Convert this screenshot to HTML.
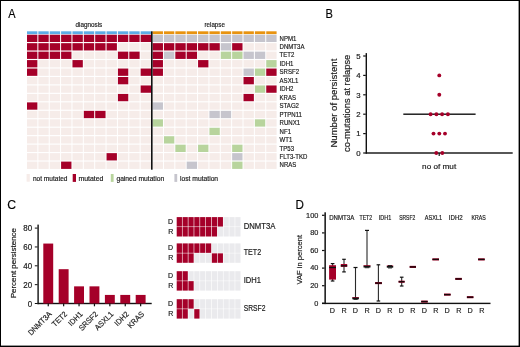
<!DOCTYPE html>
<html><head><meta charset="utf-8"><style>
html,body{margin:0;padding:0;background:#fff;}
body{width:520px;height:347px;overflow:hidden;}
svg{display:block;will-change:transform;}
text{font-family:"Liberation Sans", sans-serif;stroke:#1a1a1a;stroke-width:0.18px;}
</style></head><body>
<svg width="520" height="347" viewBox="0 0 520 347">
<rect x="0" y="0" width="520" height="347" fill="#fff"/>
<rect x="27.00" y="34.70" width="10.36" height="7.31" fill="#a50029"/>
<rect x="152.60" y="34.70" width="10.36" height="7.31" fill="#c6c5cd"/>
<rect x="38.36" y="34.70" width="10.36" height="7.31" fill="#a50029"/>
<rect x="163.96" y="34.70" width="10.36" height="7.31" fill="#c6c5cd"/>
<rect x="49.73" y="34.70" width="10.36" height="7.31" fill="#a50029"/>
<rect x="175.33" y="34.70" width="10.36" height="7.31" fill="#c6c5cd"/>
<rect x="61.09" y="34.70" width="10.36" height="7.31" fill="#a50029"/>
<rect x="186.69" y="34.70" width="10.36" height="7.31" fill="#c6c5cd"/>
<rect x="72.46" y="34.70" width="10.36" height="7.31" fill="#a50029"/>
<rect x="198.06" y="34.70" width="10.36" height="7.31" fill="#c6c5cd"/>
<rect x="83.82" y="34.70" width="10.36" height="7.31" fill="#a50029"/>
<rect x="209.42" y="34.70" width="10.36" height="7.31" fill="#c6c5cd"/>
<rect x="95.18" y="34.70" width="10.36" height="7.31" fill="#a50029"/>
<rect x="220.78" y="34.70" width="10.36" height="7.31" fill="#c6c5cd"/>
<rect x="106.55" y="34.70" width="10.36" height="7.31" fill="#a50029"/>
<rect x="232.15" y="34.70" width="10.36" height="7.31" fill="#c6c5cd"/>
<rect x="117.91" y="34.70" width="10.36" height="7.31" fill="#a50029"/>
<rect x="243.51" y="34.70" width="10.36" height="7.31" fill="#c6c5cd"/>
<rect x="129.28" y="34.70" width="10.36" height="7.31" fill="#a50029"/>
<rect x="254.88" y="34.70" width="10.36" height="7.31" fill="#c6c5cd"/>
<rect x="140.64" y="34.70" width="10.36" height="7.31" fill="#a50029"/>
<rect x="266.24" y="34.70" width="10.36" height="7.31" fill="#c6c5cd"/>
<rect x="27.00" y="43.16" width="10.36" height="7.31" fill="#a50029"/>
<rect x="152.60" y="43.16" width="10.36" height="7.31" fill="#a50029"/>
<rect x="38.36" y="43.16" width="10.36" height="7.31" fill="#a50029"/>
<rect x="163.96" y="43.16" width="10.36" height="7.31" fill="#a50029"/>
<rect x="49.73" y="43.16" width="10.36" height="7.31" fill="#a50029"/>
<rect x="175.33" y="43.16" width="10.36" height="7.31" fill="#a50029"/>
<rect x="61.09" y="43.16" width="10.36" height="7.31" fill="#a50029"/>
<rect x="186.69" y="43.16" width="10.36" height="7.31" fill="#a50029"/>
<rect x="72.46" y="43.16" width="10.36" height="7.31" fill="#a50029"/>
<rect x="198.06" y="43.16" width="10.36" height="7.31" fill="#a50029"/>
<rect x="83.82" y="43.16" width="10.36" height="7.31" fill="#a50029"/>
<rect x="209.42" y="43.16" width="10.36" height="7.31" fill="#a50029"/>
<rect x="95.18" y="43.16" width="10.36" height="7.31" fill="#a50029"/>
<rect x="220.78" y="43.16" width="10.36" height="7.31" fill="#c6c5cd"/>
<rect x="106.55" y="43.16" width="10.36" height="7.31" fill="#a50029"/>
<rect x="232.15" y="43.16" width="10.36" height="7.31" fill="#a50029"/>
<rect x="117.91" y="43.16" width="10.36" height="7.31" fill="#f6ece9"/>
<rect x="243.51" y="43.16" width="10.36" height="7.31" fill="#f6ece9"/>
<rect x="129.28" y="43.16" width="10.36" height="7.31" fill="#f6ece9"/>
<rect x="254.88" y="43.16" width="10.36" height="7.31" fill="#f6ece9"/>
<rect x="140.64" y="43.16" width="10.36" height="7.31" fill="#f6ece9"/>
<rect x="266.24" y="43.16" width="10.36" height="7.31" fill="#f6ece9"/>
<rect x="27.00" y="51.62" width="10.36" height="7.31" fill="#a50029"/>
<rect x="152.60" y="51.62" width="10.36" height="7.31" fill="#a50029"/>
<rect x="38.36" y="51.62" width="10.36" height="7.31" fill="#a50029"/>
<rect x="163.96" y="51.62" width="10.36" height="7.31" fill="#c6c5cd"/>
<rect x="49.73" y="51.62" width="10.36" height="7.31" fill="#a50029"/>
<rect x="175.33" y="51.62" width="10.36" height="7.31" fill="#a50029"/>
<rect x="61.09" y="51.62" width="10.36" height="7.31" fill="#a50029"/>
<rect x="186.69" y="51.62" width="10.36" height="7.31" fill="#a50029"/>
<rect x="72.46" y="51.62" width="10.36" height="7.31" fill="#f6ece9"/>
<rect x="198.06" y="51.62" width="10.36" height="7.31" fill="#f6ece9"/>
<rect x="83.82" y="51.62" width="10.36" height="7.31" fill="#f6ece9"/>
<rect x="209.42" y="51.62" width="10.36" height="7.31" fill="#f6ece9"/>
<rect x="95.18" y="51.62" width="10.36" height="7.31" fill="#f6ece9"/>
<rect x="220.78" y="51.62" width="10.36" height="7.31" fill="#b8d49d"/>
<rect x="106.55" y="51.62" width="10.36" height="7.31" fill="#f6ece9"/>
<rect x="232.15" y="51.62" width="10.36" height="7.31" fill="#b8d49d"/>
<rect x="117.91" y="51.62" width="10.36" height="7.31" fill="#a50029"/>
<rect x="243.51" y="51.62" width="10.36" height="7.31" fill="#c6c5cd"/>
<rect x="129.28" y="51.62" width="10.36" height="7.31" fill="#a50029"/>
<rect x="254.88" y="51.62" width="10.36" height="7.31" fill="#c6c5cd"/>
<rect x="140.64" y="51.62" width="10.36" height="7.31" fill="#f6ece9"/>
<rect x="266.24" y="51.62" width="10.36" height="7.31" fill="#f6ece9"/>
<rect x="27.00" y="60.08" width="10.36" height="7.31" fill="#a50029"/>
<rect x="152.60" y="60.08" width="10.36" height="7.31" fill="#a50029"/>
<rect x="38.36" y="60.08" width="10.36" height="7.31" fill="#f6ece9"/>
<rect x="163.96" y="60.08" width="10.36" height="7.31" fill="#f6ece9"/>
<rect x="49.73" y="60.08" width="10.36" height="7.31" fill="#f6ece9"/>
<rect x="175.33" y="60.08" width="10.36" height="7.31" fill="#f6ece9"/>
<rect x="61.09" y="60.08" width="10.36" height="7.31" fill="#f6ece9"/>
<rect x="186.69" y="60.08" width="10.36" height="7.31" fill="#f6ece9"/>
<rect x="72.46" y="60.08" width="10.36" height="7.31" fill="#a50029"/>
<rect x="198.06" y="60.08" width="10.36" height="7.31" fill="#a50029"/>
<rect x="83.82" y="60.08" width="10.36" height="7.31" fill="#f6ece9"/>
<rect x="209.42" y="60.08" width="10.36" height="7.31" fill="#f6ece9"/>
<rect x="95.18" y="60.08" width="10.36" height="7.31" fill="#f6ece9"/>
<rect x="220.78" y="60.08" width="10.36" height="7.31" fill="#f6ece9"/>
<rect x="106.55" y="60.08" width="10.36" height="7.31" fill="#f6ece9"/>
<rect x="232.15" y="60.08" width="10.36" height="7.31" fill="#f6ece9"/>
<rect x="117.91" y="60.08" width="10.36" height="7.31" fill="#f6ece9"/>
<rect x="243.51" y="60.08" width="10.36" height="7.31" fill="#f6ece9"/>
<rect x="129.28" y="60.08" width="10.36" height="7.31" fill="#f6ece9"/>
<rect x="254.88" y="60.08" width="10.36" height="7.31" fill="#f6ece9"/>
<rect x="140.64" y="60.08" width="10.36" height="7.31" fill="#f6ece9"/>
<rect x="266.24" y="60.08" width="10.36" height="7.31" fill="#b8d49d"/>
<rect x="27.00" y="68.54" width="10.36" height="7.31" fill="#a50029"/>
<rect x="152.60" y="68.54" width="10.36" height="7.31" fill="#a50029"/>
<rect x="38.36" y="68.54" width="10.36" height="7.31" fill="#f6ece9"/>
<rect x="163.96" y="68.54" width="10.36" height="7.31" fill="#f6ece9"/>
<rect x="49.73" y="68.54" width="10.36" height="7.31" fill="#f6ece9"/>
<rect x="175.33" y="68.54" width="10.36" height="7.31" fill="#f6ece9"/>
<rect x="61.09" y="68.54" width="10.36" height="7.31" fill="#f6ece9"/>
<rect x="186.69" y="68.54" width="10.36" height="7.31" fill="#f6ece9"/>
<rect x="72.46" y="68.54" width="10.36" height="7.31" fill="#f6ece9"/>
<rect x="198.06" y="68.54" width="10.36" height="7.31" fill="#f6ece9"/>
<rect x="83.82" y="68.54" width="10.36" height="7.31" fill="#f6ece9"/>
<rect x="209.42" y="68.54" width="10.36" height="7.31" fill="#f6ece9"/>
<rect x="95.18" y="68.54" width="10.36" height="7.31" fill="#f6ece9"/>
<rect x="220.78" y="68.54" width="10.36" height="7.31" fill="#f6ece9"/>
<rect x="106.55" y="68.54" width="10.36" height="7.31" fill="#f6ece9"/>
<rect x="232.15" y="68.54" width="10.36" height="7.31" fill="#f6ece9"/>
<rect x="117.91" y="68.54" width="10.36" height="7.31" fill="#a50029"/>
<rect x="243.51" y="68.54" width="10.36" height="7.31" fill="#c6c5cd"/>
<rect x="129.28" y="68.54" width="10.36" height="7.31" fill="#f6ece9"/>
<rect x="254.88" y="68.54" width="10.36" height="7.31" fill="#b8d49d"/>
<rect x="140.64" y="68.54" width="10.36" height="7.31" fill="#a50029"/>
<rect x="266.24" y="68.54" width="10.36" height="7.31" fill="#a50029"/>
<rect x="27.00" y="77.00" width="10.36" height="7.31" fill="#f6ece9"/>
<rect x="152.60" y="77.00" width="10.36" height="7.31" fill="#f6ece9"/>
<rect x="38.36" y="77.00" width="10.36" height="7.31" fill="#f6ece9"/>
<rect x="163.96" y="77.00" width="10.36" height="7.31" fill="#f6ece9"/>
<rect x="49.73" y="77.00" width="10.36" height="7.31" fill="#f6ece9"/>
<rect x="175.33" y="77.00" width="10.36" height="7.31" fill="#f6ece9"/>
<rect x="61.09" y="77.00" width="10.36" height="7.31" fill="#f6ece9"/>
<rect x="186.69" y="77.00" width="10.36" height="7.31" fill="#f6ece9"/>
<rect x="72.46" y="77.00" width="10.36" height="7.31" fill="#f6ece9"/>
<rect x="198.06" y="77.00" width="10.36" height="7.31" fill="#f6ece9"/>
<rect x="83.82" y="77.00" width="10.36" height="7.31" fill="#f6ece9"/>
<rect x="209.42" y="77.00" width="10.36" height="7.31" fill="#f6ece9"/>
<rect x="95.18" y="77.00" width="10.36" height="7.31" fill="#f6ece9"/>
<rect x="220.78" y="77.00" width="10.36" height="7.31" fill="#f6ece9"/>
<rect x="106.55" y="77.00" width="10.36" height="7.31" fill="#f6ece9"/>
<rect x="232.15" y="77.00" width="10.36" height="7.31" fill="#f6ece9"/>
<rect x="117.91" y="77.00" width="10.36" height="7.31" fill="#a50029"/>
<rect x="243.51" y="77.00" width="10.36" height="7.31" fill="#a50029"/>
<rect x="129.28" y="77.00" width="10.36" height="7.31" fill="#f6ece9"/>
<rect x="254.88" y="77.00" width="10.36" height="7.31" fill="#f6ece9"/>
<rect x="140.64" y="77.00" width="10.36" height="7.31" fill="#f6ece9"/>
<rect x="266.24" y="77.00" width="10.36" height="7.31" fill="#f6ece9"/>
<rect x="27.00" y="85.46" width="10.36" height="7.31" fill="#f6ece9"/>
<rect x="152.60" y="85.46" width="10.36" height="7.31" fill="#f6ece9"/>
<rect x="38.36" y="85.46" width="10.36" height="7.31" fill="#f6ece9"/>
<rect x="163.96" y="85.46" width="10.36" height="7.31" fill="#f6ece9"/>
<rect x="49.73" y="85.46" width="10.36" height="7.31" fill="#f6ece9"/>
<rect x="175.33" y="85.46" width="10.36" height="7.31" fill="#f6ece9"/>
<rect x="61.09" y="85.46" width="10.36" height="7.31" fill="#f6ece9"/>
<rect x="186.69" y="85.46" width="10.36" height="7.31" fill="#f6ece9"/>
<rect x="72.46" y="85.46" width="10.36" height="7.31" fill="#f6ece9"/>
<rect x="198.06" y="85.46" width="10.36" height="7.31" fill="#f6ece9"/>
<rect x="83.82" y="85.46" width="10.36" height="7.31" fill="#f6ece9"/>
<rect x="209.42" y="85.46" width="10.36" height="7.31" fill="#f6ece9"/>
<rect x="95.18" y="85.46" width="10.36" height="7.31" fill="#f6ece9"/>
<rect x="220.78" y="85.46" width="10.36" height="7.31" fill="#f6ece9"/>
<rect x="106.55" y="85.46" width="10.36" height="7.31" fill="#f6ece9"/>
<rect x="232.15" y="85.46" width="10.36" height="7.31" fill="#f6ece9"/>
<rect x="117.91" y="85.46" width="10.36" height="7.31" fill="#f6ece9"/>
<rect x="243.51" y="85.46" width="10.36" height="7.31" fill="#f6ece9"/>
<rect x="129.28" y="85.46" width="10.36" height="7.31" fill="#f6ece9"/>
<rect x="254.88" y="85.46" width="10.36" height="7.31" fill="#b8d49d"/>
<rect x="140.64" y="85.46" width="10.36" height="7.31" fill="#a50029"/>
<rect x="266.24" y="85.46" width="10.36" height="7.31" fill="#a50029"/>
<rect x="27.00" y="93.92" width="10.36" height="7.31" fill="#f6ece9"/>
<rect x="152.60" y="93.92" width="10.36" height="7.31" fill="#f6ece9"/>
<rect x="38.36" y="93.92" width="10.36" height="7.31" fill="#f6ece9"/>
<rect x="163.96" y="93.92" width="10.36" height="7.31" fill="#f6ece9"/>
<rect x="49.73" y="93.92" width="10.36" height="7.31" fill="#f6ece9"/>
<rect x="175.33" y="93.92" width="10.36" height="7.31" fill="#f6ece9"/>
<rect x="61.09" y="93.92" width="10.36" height="7.31" fill="#f6ece9"/>
<rect x="186.69" y="93.92" width="10.36" height="7.31" fill="#f6ece9"/>
<rect x="72.46" y="93.92" width="10.36" height="7.31" fill="#f6ece9"/>
<rect x="198.06" y="93.92" width="10.36" height="7.31" fill="#f6ece9"/>
<rect x="83.82" y="93.92" width="10.36" height="7.31" fill="#f6ece9"/>
<rect x="209.42" y="93.92" width="10.36" height="7.31" fill="#f6ece9"/>
<rect x="95.18" y="93.92" width="10.36" height="7.31" fill="#f6ece9"/>
<rect x="220.78" y="93.92" width="10.36" height="7.31" fill="#f6ece9"/>
<rect x="106.55" y="93.92" width="10.36" height="7.31" fill="#f6ece9"/>
<rect x="232.15" y="93.92" width="10.36" height="7.31" fill="#f6ece9"/>
<rect x="117.91" y="93.92" width="10.36" height="7.31" fill="#a50029"/>
<rect x="243.51" y="93.92" width="10.36" height="7.31" fill="#a50029"/>
<rect x="129.28" y="93.92" width="10.36" height="7.31" fill="#f6ece9"/>
<rect x="254.88" y="93.92" width="10.36" height="7.31" fill="#f6ece9"/>
<rect x="140.64" y="93.92" width="10.36" height="7.31" fill="#f6ece9"/>
<rect x="266.24" y="93.92" width="10.36" height="7.31" fill="#f6ece9"/>
<rect x="27.00" y="102.38" width="10.36" height="7.31" fill="#a50029"/>
<rect x="152.60" y="102.38" width="10.36" height="7.31" fill="#c6c5cd"/>
<rect x="38.36" y="102.38" width="10.36" height="7.31" fill="#f6ece9"/>
<rect x="163.96" y="102.38" width="10.36" height="7.31" fill="#f6ece9"/>
<rect x="49.73" y="102.38" width="10.36" height="7.31" fill="#f6ece9"/>
<rect x="175.33" y="102.38" width="10.36" height="7.31" fill="#f6ece9"/>
<rect x="61.09" y="102.38" width="10.36" height="7.31" fill="#f6ece9"/>
<rect x="186.69" y="102.38" width="10.36" height="7.31" fill="#f6ece9"/>
<rect x="72.46" y="102.38" width="10.36" height="7.31" fill="#f6ece9"/>
<rect x="198.06" y="102.38" width="10.36" height="7.31" fill="#f6ece9"/>
<rect x="83.82" y="102.38" width="10.36" height="7.31" fill="#f6ece9"/>
<rect x="209.42" y="102.38" width="10.36" height="7.31" fill="#f6ece9"/>
<rect x="95.18" y="102.38" width="10.36" height="7.31" fill="#f6ece9"/>
<rect x="220.78" y="102.38" width="10.36" height="7.31" fill="#f6ece9"/>
<rect x="106.55" y="102.38" width="10.36" height="7.31" fill="#f6ece9"/>
<rect x="232.15" y="102.38" width="10.36" height="7.31" fill="#f6ece9"/>
<rect x="117.91" y="102.38" width="10.36" height="7.31" fill="#f6ece9"/>
<rect x="243.51" y="102.38" width="10.36" height="7.31" fill="#f6ece9"/>
<rect x="129.28" y="102.38" width="10.36" height="7.31" fill="#f6ece9"/>
<rect x="254.88" y="102.38" width="10.36" height="7.31" fill="#f6ece9"/>
<rect x="140.64" y="102.38" width="10.36" height="7.31" fill="#f6ece9"/>
<rect x="266.24" y="102.38" width="10.36" height="7.31" fill="#f6ece9"/>
<rect x="27.00" y="110.84" width="10.36" height="7.31" fill="#f6ece9"/>
<rect x="152.60" y="110.84" width="10.36" height="7.31" fill="#f6ece9"/>
<rect x="38.36" y="110.84" width="10.36" height="7.31" fill="#f6ece9"/>
<rect x="163.96" y="110.84" width="10.36" height="7.31" fill="#f6ece9"/>
<rect x="49.73" y="110.84" width="10.36" height="7.31" fill="#f6ece9"/>
<rect x="175.33" y="110.84" width="10.36" height="7.31" fill="#f6ece9"/>
<rect x="61.09" y="110.84" width="10.36" height="7.31" fill="#f6ece9"/>
<rect x="186.69" y="110.84" width="10.36" height="7.31" fill="#f6ece9"/>
<rect x="72.46" y="110.84" width="10.36" height="7.31" fill="#f6ece9"/>
<rect x="198.06" y="110.84" width="10.36" height="7.31" fill="#f6ece9"/>
<rect x="83.82" y="110.84" width="10.36" height="7.31" fill="#a50029"/>
<rect x="209.42" y="110.84" width="10.36" height="7.31" fill="#c6c5cd"/>
<rect x="95.18" y="110.84" width="10.36" height="7.31" fill="#a50029"/>
<rect x="220.78" y="110.84" width="10.36" height="7.31" fill="#c6c5cd"/>
<rect x="106.55" y="110.84" width="10.36" height="7.31" fill="#f6ece9"/>
<rect x="232.15" y="110.84" width="10.36" height="7.31" fill="#f6ece9"/>
<rect x="117.91" y="110.84" width="10.36" height="7.31" fill="#f6ece9"/>
<rect x="243.51" y="110.84" width="10.36" height="7.31" fill="#f6ece9"/>
<rect x="129.28" y="110.84" width="10.36" height="7.31" fill="#f6ece9"/>
<rect x="254.88" y="110.84" width="10.36" height="7.31" fill="#f6ece9"/>
<rect x="140.64" y="110.84" width="10.36" height="7.31" fill="#f6ece9"/>
<rect x="266.24" y="110.84" width="10.36" height="7.31" fill="#f6ece9"/>
<rect x="27.00" y="119.30" width="10.36" height="7.31" fill="#f6ece9"/>
<rect x="152.60" y="119.30" width="10.36" height="7.31" fill="#b8d49d"/>
<rect x="38.36" y="119.30" width="10.36" height="7.31" fill="#f6ece9"/>
<rect x="163.96" y="119.30" width="10.36" height="7.31" fill="#f6ece9"/>
<rect x="49.73" y="119.30" width="10.36" height="7.31" fill="#f6ece9"/>
<rect x="175.33" y="119.30" width="10.36" height="7.31" fill="#f6ece9"/>
<rect x="61.09" y="119.30" width="10.36" height="7.31" fill="#f6ece9"/>
<rect x="186.69" y="119.30" width="10.36" height="7.31" fill="#f6ece9"/>
<rect x="72.46" y="119.30" width="10.36" height="7.31" fill="#f6ece9"/>
<rect x="198.06" y="119.30" width="10.36" height="7.31" fill="#f6ece9"/>
<rect x="83.82" y="119.30" width="10.36" height="7.31" fill="#f6ece9"/>
<rect x="209.42" y="119.30" width="10.36" height="7.31" fill="#f6ece9"/>
<rect x="95.18" y="119.30" width="10.36" height="7.31" fill="#f6ece9"/>
<rect x="220.78" y="119.30" width="10.36" height="7.31" fill="#f6ece9"/>
<rect x="106.55" y="119.30" width="10.36" height="7.31" fill="#f6ece9"/>
<rect x="232.15" y="119.30" width="10.36" height="7.31" fill="#f6ece9"/>
<rect x="117.91" y="119.30" width="10.36" height="7.31" fill="#f6ece9"/>
<rect x="243.51" y="119.30" width="10.36" height="7.31" fill="#f6ece9"/>
<rect x="129.28" y="119.30" width="10.36" height="7.31" fill="#f6ece9"/>
<rect x="254.88" y="119.30" width="10.36" height="7.31" fill="#b8d49d"/>
<rect x="140.64" y="119.30" width="10.36" height="7.31" fill="#f6ece9"/>
<rect x="266.24" y="119.30" width="10.36" height="7.31" fill="#f6ece9"/>
<rect x="27.00" y="127.76" width="10.36" height="7.31" fill="#f6ece9"/>
<rect x="152.60" y="127.76" width="10.36" height="7.31" fill="#f6ece9"/>
<rect x="38.36" y="127.76" width="10.36" height="7.31" fill="#f6ece9"/>
<rect x="163.96" y="127.76" width="10.36" height="7.31" fill="#f6ece9"/>
<rect x="49.73" y="127.76" width="10.36" height="7.31" fill="#f6ece9"/>
<rect x="175.33" y="127.76" width="10.36" height="7.31" fill="#f6ece9"/>
<rect x="61.09" y="127.76" width="10.36" height="7.31" fill="#f6ece9"/>
<rect x="186.69" y="127.76" width="10.36" height="7.31" fill="#f6ece9"/>
<rect x="72.46" y="127.76" width="10.36" height="7.31" fill="#f6ece9"/>
<rect x="198.06" y="127.76" width="10.36" height="7.31" fill="#f6ece9"/>
<rect x="83.82" y="127.76" width="10.36" height="7.31" fill="#f6ece9"/>
<rect x="209.42" y="127.76" width="10.36" height="7.31" fill="#b8d49d"/>
<rect x="95.18" y="127.76" width="10.36" height="7.31" fill="#f6ece9"/>
<rect x="220.78" y="127.76" width="10.36" height="7.31" fill="#f6ece9"/>
<rect x="106.55" y="127.76" width="10.36" height="7.31" fill="#f6ece9"/>
<rect x="232.15" y="127.76" width="10.36" height="7.31" fill="#f6ece9"/>
<rect x="117.91" y="127.76" width="10.36" height="7.31" fill="#f6ece9"/>
<rect x="243.51" y="127.76" width="10.36" height="7.31" fill="#f6ece9"/>
<rect x="129.28" y="127.76" width="10.36" height="7.31" fill="#f6ece9"/>
<rect x="254.88" y="127.76" width="10.36" height="7.31" fill="#f6ece9"/>
<rect x="140.64" y="127.76" width="10.36" height="7.31" fill="#f6ece9"/>
<rect x="266.24" y="127.76" width="10.36" height="7.31" fill="#f6ece9"/>
<rect x="27.00" y="136.22" width="10.36" height="7.31" fill="#f6ece9"/>
<rect x="152.60" y="136.22" width="10.36" height="7.31" fill="#f6ece9"/>
<rect x="38.36" y="136.22" width="10.36" height="7.31" fill="#f6ece9"/>
<rect x="163.96" y="136.22" width="10.36" height="7.31" fill="#b8d49d"/>
<rect x="49.73" y="136.22" width="10.36" height="7.31" fill="#f6ece9"/>
<rect x="175.33" y="136.22" width="10.36" height="7.31" fill="#f6ece9"/>
<rect x="61.09" y="136.22" width="10.36" height="7.31" fill="#f6ece9"/>
<rect x="186.69" y="136.22" width="10.36" height="7.31" fill="#f6ece9"/>
<rect x="72.46" y="136.22" width="10.36" height="7.31" fill="#f6ece9"/>
<rect x="198.06" y="136.22" width="10.36" height="7.31" fill="#f6ece9"/>
<rect x="83.82" y="136.22" width="10.36" height="7.31" fill="#f6ece9"/>
<rect x="209.42" y="136.22" width="10.36" height="7.31" fill="#f6ece9"/>
<rect x="95.18" y="136.22" width="10.36" height="7.31" fill="#f6ece9"/>
<rect x="220.78" y="136.22" width="10.36" height="7.31" fill="#f6ece9"/>
<rect x="106.55" y="136.22" width="10.36" height="7.31" fill="#f6ece9"/>
<rect x="232.15" y="136.22" width="10.36" height="7.31" fill="#f6ece9"/>
<rect x="117.91" y="136.22" width="10.36" height="7.31" fill="#f6ece9"/>
<rect x="243.51" y="136.22" width="10.36" height="7.31" fill="#f6ece9"/>
<rect x="129.28" y="136.22" width="10.36" height="7.31" fill="#f6ece9"/>
<rect x="254.88" y="136.22" width="10.36" height="7.31" fill="#f6ece9"/>
<rect x="140.64" y="136.22" width="10.36" height="7.31" fill="#f6ece9"/>
<rect x="266.24" y="136.22" width="10.36" height="7.31" fill="#f6ece9"/>
<rect x="27.00" y="144.68" width="10.36" height="7.31" fill="#f6ece9"/>
<rect x="152.60" y="144.68" width="10.36" height="7.31" fill="#f6ece9"/>
<rect x="38.36" y="144.68" width="10.36" height="7.31" fill="#f6ece9"/>
<rect x="163.96" y="144.68" width="10.36" height="7.31" fill="#f6ece9"/>
<rect x="49.73" y="144.68" width="10.36" height="7.31" fill="#f6ece9"/>
<rect x="175.33" y="144.68" width="10.36" height="7.31" fill="#b8d49d"/>
<rect x="61.09" y="144.68" width="10.36" height="7.31" fill="#f6ece9"/>
<rect x="186.69" y="144.68" width="10.36" height="7.31" fill="#f6ece9"/>
<rect x="72.46" y="144.68" width="10.36" height="7.31" fill="#f6ece9"/>
<rect x="198.06" y="144.68" width="10.36" height="7.31" fill="#b8d49d"/>
<rect x="83.82" y="144.68" width="10.36" height="7.31" fill="#f6ece9"/>
<rect x="209.42" y="144.68" width="10.36" height="7.31" fill="#f6ece9"/>
<rect x="95.18" y="144.68" width="10.36" height="7.31" fill="#f6ece9"/>
<rect x="220.78" y="144.68" width="10.36" height="7.31" fill="#f6ece9"/>
<rect x="106.55" y="144.68" width="10.36" height="7.31" fill="#f6ece9"/>
<rect x="232.15" y="144.68" width="10.36" height="7.31" fill="#b8d49d"/>
<rect x="117.91" y="144.68" width="10.36" height="7.31" fill="#f6ece9"/>
<rect x="243.51" y="144.68" width="10.36" height="7.31" fill="#f6ece9"/>
<rect x="129.28" y="144.68" width="10.36" height="7.31" fill="#f6ece9"/>
<rect x="254.88" y="144.68" width="10.36" height="7.31" fill="#f6ece9"/>
<rect x="140.64" y="144.68" width="10.36" height="7.31" fill="#f6ece9"/>
<rect x="266.24" y="144.68" width="10.36" height="7.31" fill="#f6ece9"/>
<rect x="27.00" y="153.14" width="10.36" height="7.31" fill="#f6ece9"/>
<rect x="152.60" y="153.14" width="10.36" height="7.31" fill="#f6ece9"/>
<rect x="38.36" y="153.14" width="10.36" height="7.31" fill="#f6ece9"/>
<rect x="163.96" y="153.14" width="10.36" height="7.31" fill="#f6ece9"/>
<rect x="49.73" y="153.14" width="10.36" height="7.31" fill="#f6ece9"/>
<rect x="175.33" y="153.14" width="10.36" height="7.31" fill="#f6ece9"/>
<rect x="61.09" y="153.14" width="10.36" height="7.31" fill="#f6ece9"/>
<rect x="186.69" y="153.14" width="10.36" height="7.31" fill="#f6ece9"/>
<rect x="72.46" y="153.14" width="10.36" height="7.31" fill="#f6ece9"/>
<rect x="198.06" y="153.14" width="10.36" height="7.31" fill="#f6ece9"/>
<rect x="83.82" y="153.14" width="10.36" height="7.31" fill="#f6ece9"/>
<rect x="209.42" y="153.14" width="10.36" height="7.31" fill="#f6ece9"/>
<rect x="95.18" y="153.14" width="10.36" height="7.31" fill="#f6ece9"/>
<rect x="220.78" y="153.14" width="10.36" height="7.31" fill="#f6ece9"/>
<rect x="106.55" y="153.14" width="10.36" height="7.31" fill="#a50029"/>
<rect x="232.15" y="153.14" width="10.36" height="7.31" fill="#c6c5cd"/>
<rect x="117.91" y="153.14" width="10.36" height="7.31" fill="#f6ece9"/>
<rect x="243.51" y="153.14" width="10.36" height="7.31" fill="#f6ece9"/>
<rect x="129.28" y="153.14" width="10.36" height="7.31" fill="#f6ece9"/>
<rect x="254.88" y="153.14" width="10.36" height="7.31" fill="#f6ece9"/>
<rect x="140.64" y="153.14" width="10.36" height="7.31" fill="#f6ece9"/>
<rect x="266.24" y="153.14" width="10.36" height="7.31" fill="#f6ece9"/>
<rect x="27.00" y="161.60" width="10.36" height="7.31" fill="#f6ece9"/>
<rect x="152.60" y="161.60" width="10.36" height="7.31" fill="#f6ece9"/>
<rect x="38.36" y="161.60" width="10.36" height="7.31" fill="#f6ece9"/>
<rect x="163.96" y="161.60" width="10.36" height="7.31" fill="#f6ece9"/>
<rect x="49.73" y="161.60" width="10.36" height="7.31" fill="#f6ece9"/>
<rect x="175.33" y="161.60" width="10.36" height="7.31" fill="#f6ece9"/>
<rect x="61.09" y="161.60" width="10.36" height="7.31" fill="#a50029"/>
<rect x="186.69" y="161.60" width="10.36" height="7.31" fill="#c6c5cd"/>
<rect x="72.46" y="161.60" width="10.36" height="7.31" fill="#f6ece9"/>
<rect x="198.06" y="161.60" width="10.36" height="7.31" fill="#f6ece9"/>
<rect x="83.82" y="161.60" width="10.36" height="7.31" fill="#f6ece9"/>
<rect x="209.42" y="161.60" width="10.36" height="7.31" fill="#f6ece9"/>
<rect x="95.18" y="161.60" width="10.36" height="7.31" fill="#f6ece9"/>
<rect x="220.78" y="161.60" width="10.36" height="7.31" fill="#f6ece9"/>
<rect x="106.55" y="161.60" width="10.36" height="7.31" fill="#f6ece9"/>
<rect x="232.15" y="161.60" width="10.36" height="7.31" fill="#b8d49d"/>
<rect x="117.91" y="161.60" width="10.36" height="7.31" fill="#f6ece9"/>
<rect x="243.51" y="161.60" width="10.36" height="7.31" fill="#f6ece9"/>
<rect x="129.28" y="161.60" width="10.36" height="7.31" fill="#f6ece9"/>
<rect x="254.88" y="161.60" width="10.36" height="7.31" fill="#f6ece9"/>
<rect x="140.64" y="161.60" width="10.36" height="7.31" fill="#f6ece9"/>
<rect x="266.24" y="161.60" width="10.36" height="7.31" fill="#f6ece9"/>
<rect x="27.00" y="31.3" width="10.36" height="2.8" fill="#5dade6"/>
<rect x="152.60" y="31.3" width="10.36" height="2.8" fill="#e8930f"/>
<rect x="38.36" y="31.3" width="10.36" height="2.8" fill="#5dade6"/>
<rect x="163.96" y="31.3" width="10.36" height="2.8" fill="#e8930f"/>
<rect x="49.73" y="31.3" width="10.36" height="2.8" fill="#5dade6"/>
<rect x="175.33" y="31.3" width="10.36" height="2.8" fill="#e8930f"/>
<rect x="61.09" y="31.3" width="10.36" height="2.8" fill="#5dade6"/>
<rect x="186.69" y="31.3" width="10.36" height="2.8" fill="#e8930f"/>
<rect x="72.46" y="31.3" width="10.36" height="2.8" fill="#5dade6"/>
<rect x="198.06" y="31.3" width="10.36" height="2.8" fill="#e8930f"/>
<rect x="83.82" y="31.3" width="10.36" height="2.8" fill="#5dade6"/>
<rect x="209.42" y="31.3" width="10.36" height="2.8" fill="#e8930f"/>
<rect x="95.18" y="31.3" width="10.36" height="2.8" fill="#5dade6"/>
<rect x="220.78" y="31.3" width="10.36" height="2.8" fill="#e8930f"/>
<rect x="106.55" y="31.3" width="10.36" height="2.8" fill="#5dade6"/>
<rect x="232.15" y="31.3" width="10.36" height="2.8" fill="#e8930f"/>
<rect x="117.91" y="31.3" width="10.36" height="2.8" fill="#5dade6"/>
<rect x="243.51" y="31.3" width="10.36" height="2.8" fill="#e8930f"/>
<rect x="129.28" y="31.3" width="10.36" height="2.8" fill="#5dade6"/>
<rect x="254.88" y="31.3" width="10.36" height="2.8" fill="#e8930f"/>
<rect x="140.64" y="31.3" width="10.36" height="2.8" fill="#5dade6"/>
<rect x="266.24" y="31.3" width="10.36" height="2.8" fill="#e8930f"/>
<rect x="151.0" y="31.3" width="1.6" height="138.4" fill="#111"/>
<text x="279.60" y="40.56" font-size="6.9" fill="#1a1a1a" textLength="16.77" lengthAdjust="spacingAndGlyphs">NPM1</text>
<text x="279.60" y="49.02" font-size="6.9" fill="#1a1a1a" textLength="24.82" lengthAdjust="spacingAndGlyphs">DNMT3A</text>
<text x="279.60" y="57.48" font-size="6.9" fill="#1a1a1a" textLength="14.76" lengthAdjust="spacingAndGlyphs">TET2</text>
<text x="279.60" y="65.94" font-size="6.9" fill="#1a1a1a" textLength="13.76" lengthAdjust="spacingAndGlyphs">IDH1</text>
<text x="279.60" y="74.40" font-size="6.9" fill="#1a1a1a" textLength="19.46" lengthAdjust="spacingAndGlyphs">SRSF2</text>
<text x="279.60" y="82.86" font-size="6.9" fill="#1a1a1a" textLength="18.8" lengthAdjust="spacingAndGlyphs">ASXL1</text>
<text x="279.60" y="91.32" font-size="6.9" fill="#1a1a1a" textLength="13.76" lengthAdjust="spacingAndGlyphs">IDH2</text>
<text x="279.60" y="99.78" font-size="6.9" fill="#1a1a1a" textLength="16.44" lengthAdjust="spacingAndGlyphs">KRAS</text>
<text x="279.60" y="108.24" font-size="6.9" fill="#1a1a1a" textLength="19.35" lengthAdjust="spacingAndGlyphs">STAG2</text>
<text x="279.60" y="116.70" font-size="6.9" fill="#1a1a1a" textLength="22.37" lengthAdjust="spacingAndGlyphs">PTPN11</text>
<text x="279.60" y="125.16" font-size="6.9" fill="#1a1a1a" textLength="20.47" lengthAdjust="spacingAndGlyphs">RUNX1</text>
<text x="279.60" y="133.61" font-size="6.9" fill="#1a1a1a" textLength="11.41" lengthAdjust="spacingAndGlyphs">NF1</text>
<text x="279.60" y="142.08" font-size="6.9" fill="#1a1a1a" textLength="12.74" lengthAdjust="spacingAndGlyphs">WT1</text>
<text x="279.60" y="150.53" font-size="6.9" fill="#1a1a1a" textLength="14.43" lengthAdjust="spacingAndGlyphs">TP53</text>
<text x="279.60" y="159.00" font-size="6.9" fill="#1a1a1a" textLength="27.73" lengthAdjust="spacingAndGlyphs">FLT3-TKD</text>
<text x="279.60" y="167.46" font-size="6.9" fill="#1a1a1a" textLength="16.77" lengthAdjust="spacingAndGlyphs">NRAS</text>
<text x="88.85" y="27.20" font-size="7.2" fill="#1a1a1a" text-anchor="middle" textLength="26.75" lengthAdjust="spacingAndGlyphs">diagnosis</text>
<text x="214.70" y="27.20" font-size="7.2" fill="#1a1a1a" text-anchor="middle" textLength="20.45" lengthAdjust="spacingAndGlyphs">relapse</text>
<rect x="26.6" y="174" width="3.2" height="7.7" fill="#f6ece9"/>
<text x="32.90" y="180.70" font-size="6.9" fill="#1a1a1a" textLength="34.62" lengthAdjust="spacingAndGlyphs">not mutated</text>
<rect x="72.7" y="174" width="3.3" height="7.9" fill="#a50029"/>
<text x="78.40" y="180.70" font-size="6.9" fill="#1a1a1a" textLength="24.92" lengthAdjust="spacingAndGlyphs">mutated</text>
<rect x="110.8" y="174" width="2.8" height="7.9" fill="#b8d49d"/>
<text x="116.40" y="180.70" font-size="6.9" fill="#1a1a1a" textLength="47.82" lengthAdjust="spacingAndGlyphs">gained mutation</text>
<rect x="174.4" y="174" width="2.8" height="7.9" fill="#c6c5cd"/>
<text x="180.00" y="180.70" font-size="6.9" fill="#1a1a1a" textLength="38.12" lengthAdjust="spacingAndGlyphs">lost mutation</text>
<text x="8.20" y="18.00" font-size="12.2" fill="#000" textLength="7.3" lengthAdjust="spacingAndGlyphs">A</text>
<text x="325.50" y="18.00" font-size="12.2" fill="#000" textLength="7.4" lengthAdjust="spacingAndGlyphs">B</text>
<text x="7.30" y="209.00" font-size="12.2" fill="#000">C</text>
<text x="295.60" y="208.80" font-size="12.2" fill="#000" textLength="8.4" lengthAdjust="spacingAndGlyphs">D</text>
<rect x="365.6" y="53.1" width="1.4" height="100.6" fill="#111111"/>
<rect x="365.6" y="152.3" width="147.1" height="1.4" fill="#111111"/>
<rect x="363.2" y="152.40" width="2.6" height="1.2" fill="#111111"/>
<text x="360.60" y="155.80" font-size="7.8" fill="#1a1a1a" text-anchor="end">0</text>
<rect x="363.2" y="133.00" width="2.6" height="1.2" fill="#111111"/>
<text x="360.60" y="136.40" font-size="7.8" fill="#1a1a1a" text-anchor="end">1</text>
<rect x="363.2" y="113.60" width="2.6" height="1.2" fill="#111111"/>
<text x="360.60" y="117.00" font-size="7.8" fill="#1a1a1a" text-anchor="end">2</text>
<rect x="363.2" y="94.20" width="2.6" height="1.2" fill="#111111"/>
<text x="360.60" y="97.60" font-size="7.8" fill="#1a1a1a" text-anchor="end">3</text>
<rect x="363.2" y="74.80" width="2.6" height="1.2" fill="#111111"/>
<text x="360.60" y="78.20" font-size="7.8" fill="#1a1a1a" text-anchor="end">4</text>
<rect x="363.2" y="55.40" width="2.6" height="1.2" fill="#111111"/>
<text x="360.60" y="58.80" font-size="7.8" fill="#1a1a1a" text-anchor="end">5</text>
<rect x="438.6" y="153" width="1.2" height="3" fill="#111111"/>
<rect x="403.3" y="113.5" width="72.3" height="1.4" fill="#111111"/>
<circle cx="439.3" cy="75.40" r="1.95" fill="#a50029"/>
<circle cx="439.3" cy="94.80" r="1.95" fill="#a50029"/>
<circle cx="430.6" cy="114.20" r="1.95" fill="#a50029"/>
<circle cx="436.4" cy="114.20" r="1.95" fill="#a50029"/>
<circle cx="442.1" cy="114.20" r="1.95" fill="#a50029"/>
<circle cx="447.9" cy="114.20" r="1.95" fill="#a50029"/>
<circle cx="433.5" cy="133.60" r="1.95" fill="#a50029"/>
<circle cx="439.3" cy="133.60" r="1.95" fill="#a50029"/>
<circle cx="445.0" cy="133.60" r="1.95" fill="#a50029"/>
<circle cx="436.3" cy="153.00" r="1.95" fill="#a50029"/>
<circle cx="442.3" cy="153.00" r="1.95" fill="#a50029"/>
<text x="422.10" y="168.70" font-size="7.6" fill="#1a1a1a" textLength="34.1" lengthAdjust="spacingAndGlyphs">no of mut</text>
<text x="336.80" y="147.60" font-size="8.8" fill="#1a1a1a" textLength="88.9" lengthAdjust="spacingAndGlyphs" transform="rotate(-90 336.80 147.60)">Number of persistent</text>
<text x="349.80" y="151.90" font-size="8.8" fill="#1a1a1a" textLength="97.2" lengthAdjust="spacingAndGlyphs" transform="rotate(-90 349.80 151.90)">co-mutations at relapse</text>
<rect x="37.4" y="224.6" width="1.4" height="79.6" fill="#111111"/>
<rect x="37.4" y="302.8" width="114.3" height="1.4" fill="#111111"/>
<rect x="34.8" y="303.00" width="2.8" height="1.0" fill="#111111"/>
<text x="32.10" y="306.50" font-size="8.2" fill="#1a1a1a" text-anchor="end" textLength="4.42" lengthAdjust="spacingAndGlyphs">0</text>
<rect x="34.8" y="284.15" width="2.8" height="1.0" fill="#111111"/>
<text x="32.10" y="287.65" font-size="8.2" fill="#1a1a1a" text-anchor="end" textLength="8.85" lengthAdjust="spacingAndGlyphs">20</text>
<rect x="34.8" y="265.30" width="2.8" height="1.0" fill="#111111"/>
<text x="32.10" y="268.80" font-size="8.2" fill="#1a1a1a" text-anchor="end" textLength="8.85" lengthAdjust="spacingAndGlyphs">40</text>
<rect x="34.8" y="246.45" width="2.8" height="1.0" fill="#111111"/>
<text x="32.10" y="249.95" font-size="8.2" fill="#1a1a1a" text-anchor="end" textLength="8.85" lengthAdjust="spacingAndGlyphs">60</text>
<rect x="34.8" y="227.60" width="2.8" height="1.0" fill="#111111"/>
<text x="32.10" y="231.10" font-size="8.2" fill="#1a1a1a" text-anchor="end" textLength="8.85" lengthAdjust="spacingAndGlyphs">80</text>
<rect x="43.30" y="243.56" width="9.9" height="59.94" fill="#a50029"/>
<rect x="47.65" y="303.5" width="1.2" height="2.8" fill="#111111"/>
<text x="52.25" y="314.70" font-size="7.8" fill="#1a1a1a" text-anchor="end" textLength="29.82" lengthAdjust="spacingAndGlyphs" transform="rotate(-45 52.25 314.70)">DNMT3A</text>
<rect x="58.70" y="269.19" width="9.9" height="34.31" fill="#a50029"/>
<rect x="63.05" y="303.5" width="1.2" height="2.8" fill="#111111"/>
<text x="67.65" y="314.70" font-size="7.8" fill="#1a1a1a" text-anchor="end" textLength="17.73" lengthAdjust="spacingAndGlyphs" transform="rotate(-45 67.65 314.70)">TET2</text>
<rect x="74.10" y="286.35" width="9.9" height="17.15" fill="#a50029"/>
<rect x="78.45" y="303.5" width="1.2" height="2.8" fill="#111111"/>
<text x="83.05" y="314.70" font-size="7.8" fill="#1a1a1a" text-anchor="end" textLength="16.53" lengthAdjust="spacingAndGlyphs" transform="rotate(-45 83.05 314.70)">IDH1</text>
<rect x="89.50" y="286.35" width="9.9" height="17.15" fill="#a50029"/>
<rect x="93.85" y="303.5" width="1.2" height="2.8" fill="#111111"/>
<text x="98.45" y="314.70" font-size="7.8" fill="#1a1a1a" text-anchor="end" textLength="23.38" lengthAdjust="spacingAndGlyphs" transform="rotate(-45 98.45 314.70)">SRSF2</text>
<rect x="104.90" y="294.92" width="9.9" height="8.58" fill="#a50029"/>
<rect x="109.25" y="303.5" width="1.2" height="2.8" fill="#111111"/>
<text x="113.85" y="314.70" font-size="7.8" fill="#1a1a1a" text-anchor="end" textLength="22.58" lengthAdjust="spacingAndGlyphs" transform="rotate(-45 113.85 314.70)">ASXL1</text>
<rect x="120.30" y="294.92" width="9.9" height="8.58" fill="#a50029"/>
<rect x="124.65" y="303.5" width="1.2" height="2.8" fill="#111111"/>
<text x="129.25" y="314.70" font-size="7.8" fill="#1a1a1a" text-anchor="end" textLength="16.53" lengthAdjust="spacingAndGlyphs" transform="rotate(-45 129.25 314.70)">IDH2</text>
<rect x="135.70" y="294.92" width="9.9" height="8.58" fill="#a50029"/>
<rect x="140.05" y="303.5" width="1.2" height="2.8" fill="#111111"/>
<text x="144.65" y="314.70" font-size="7.8" fill="#1a1a1a" text-anchor="end" textLength="19.75" lengthAdjust="spacingAndGlyphs" transform="rotate(-45 144.65 314.70)">KRAS</text>
<text x="16.10" y="298.30" font-size="7.6" fill="#1a1a1a" textLength="70.3" lengthAdjust="spacingAndGlyphs" transform="rotate(-90 16.10 298.30)">Percent persistence</text>
<rect x="176.70" y="217.10" width="5.26" height="9.45" fill="#a50029"/>
<rect x="182.55" y="217.10" width="5.26" height="9.45" fill="#a50029"/>
<rect x="188.41" y="217.10" width="5.26" height="9.45" fill="#a50029"/>
<rect x="194.26" y="217.10" width="5.26" height="9.45" fill="#a50029"/>
<rect x="200.12" y="217.10" width="5.26" height="9.45" fill="#a50029"/>
<rect x="205.97" y="217.10" width="5.26" height="9.45" fill="#a50029"/>
<rect x="211.83" y="217.10" width="5.26" height="9.45" fill="#a50029"/>
<rect x="217.69" y="217.10" width="5.26" height="9.45" fill="#a50029"/>
<rect x="223.54" y="217.10" width="5.26" height="9.45" fill="#eaeaed"/>
<rect x="229.39" y="217.10" width="5.26" height="9.45" fill="#eaeaed"/>
<rect x="235.25" y="217.10" width="5.26" height="9.45" fill="#eaeaed"/>
<rect x="176.70" y="227.05" width="5.26" height="9.45" fill="#a50029"/>
<rect x="182.55" y="227.05" width="5.26" height="9.45" fill="#a50029"/>
<rect x="188.41" y="227.05" width="5.26" height="9.45" fill="#a50029"/>
<rect x="194.26" y="227.05" width="5.26" height="9.45" fill="#a50029"/>
<rect x="200.12" y="227.05" width="5.26" height="9.45" fill="#a50029"/>
<rect x="205.97" y="227.05" width="5.26" height="9.45" fill="#a50029"/>
<rect x="211.83" y="227.05" width="5.26" height="9.45" fill="#a50029"/>
<rect x="217.69" y="227.05" width="5.26" height="9.45" fill="#eaeaed"/>
<rect x="223.54" y="227.05" width="5.26" height="9.45" fill="#eaeaed"/>
<rect x="229.39" y="227.05" width="5.26" height="9.45" fill="#eaeaed"/>
<rect x="235.25" y="227.05" width="5.26" height="9.45" fill="#eaeaed"/>
<text x="170.50" y="224.00" font-size="7.0" fill="#1a1a1a" text-anchor="middle">D</text>
<text x="170.90" y="233.70" font-size="7.0" fill="#1a1a1a" text-anchor="middle">R</text>
<text x="243.70" y="229.10" font-size="8.3" fill="#1a1a1a" textLength="31.85" lengthAdjust="spacingAndGlyphs">DNMT3A</text>
<rect x="176.70" y="243.40" width="5.26" height="9.45" fill="#a50029"/>
<rect x="182.55" y="243.40" width="5.26" height="9.45" fill="#a50029"/>
<rect x="188.41" y="243.40" width="5.26" height="9.45" fill="#a50029"/>
<rect x="194.26" y="243.40" width="5.26" height="9.45" fill="#a50029"/>
<rect x="200.12" y="243.40" width="5.26" height="9.45" fill="#a50029"/>
<rect x="205.97" y="243.40" width="5.26" height="9.45" fill="#a50029"/>
<rect x="211.83" y="243.40" width="5.26" height="9.45" fill="#eaeaed"/>
<rect x="217.69" y="243.40" width="5.26" height="9.45" fill="#eaeaed"/>
<rect x="223.54" y="243.40" width="5.26" height="9.45" fill="#eaeaed"/>
<rect x="229.39" y="243.40" width="5.26" height="9.45" fill="#eaeaed"/>
<rect x="235.25" y="243.40" width="5.26" height="9.45" fill="#eaeaed"/>
<rect x="176.70" y="253.35" width="5.26" height="9.45" fill="#a50029"/>
<rect x="182.55" y="253.35" width="5.26" height="9.45" fill="#a50029"/>
<rect x="188.41" y="253.35" width="5.26" height="9.45" fill="#a50029"/>
<rect x="194.26" y="253.35" width="5.26" height="9.45" fill="#eaeaed"/>
<rect x="200.12" y="253.35" width="5.26" height="9.45" fill="#eaeaed"/>
<rect x="205.97" y="253.35" width="5.26" height="9.45" fill="#eaeaed"/>
<rect x="211.83" y="253.35" width="5.26" height="9.45" fill="#a50029"/>
<rect x="217.69" y="253.35" width="5.26" height="9.45" fill="#a50029"/>
<rect x="223.54" y="253.35" width="5.26" height="9.45" fill="#eaeaed"/>
<rect x="229.39" y="253.35" width="5.26" height="9.45" fill="#eaeaed"/>
<rect x="235.25" y="253.35" width="5.26" height="9.45" fill="#eaeaed"/>
<text x="170.50" y="250.30" font-size="7.0" fill="#1a1a1a" text-anchor="middle">D</text>
<text x="170.90" y="260.00" font-size="7.0" fill="#1a1a1a" text-anchor="middle">R</text>
<text x="243.70" y="255.40" font-size="8.3" fill="#1a1a1a" textLength="17.45" lengthAdjust="spacingAndGlyphs">TET2</text>
<rect x="176.70" y="271.20" width="5.26" height="9.45" fill="#a50029"/>
<rect x="182.55" y="271.20" width="5.26" height="9.45" fill="#a50029"/>
<rect x="188.41" y="271.20" width="5.26" height="9.45" fill="#eaeaed"/>
<rect x="194.26" y="271.20" width="5.26" height="9.45" fill="#eaeaed"/>
<rect x="200.12" y="271.20" width="5.26" height="9.45" fill="#eaeaed"/>
<rect x="205.97" y="271.20" width="5.26" height="9.45" fill="#eaeaed"/>
<rect x="211.83" y="271.20" width="5.26" height="9.45" fill="#eaeaed"/>
<rect x="217.69" y="271.20" width="5.26" height="9.45" fill="#eaeaed"/>
<rect x="223.54" y="271.20" width="5.26" height="9.45" fill="#eaeaed"/>
<rect x="229.39" y="271.20" width="5.26" height="9.45" fill="#eaeaed"/>
<rect x="235.25" y="271.20" width="5.26" height="9.45" fill="#eaeaed"/>
<rect x="176.70" y="281.15" width="5.26" height="9.45" fill="#a50029"/>
<rect x="182.55" y="281.15" width="5.26" height="9.45" fill="#a50029"/>
<rect x="188.41" y="281.15" width="5.26" height="9.45" fill="#a50029"/>
<rect x="194.26" y="281.15" width="5.26" height="9.45" fill="#eaeaed"/>
<rect x="200.12" y="281.15" width="5.26" height="9.45" fill="#eaeaed"/>
<rect x="205.97" y="281.15" width="5.26" height="9.45" fill="#eaeaed"/>
<rect x="211.83" y="281.15" width="5.26" height="9.45" fill="#eaeaed"/>
<rect x="217.69" y="281.15" width="5.26" height="9.45" fill="#eaeaed"/>
<rect x="223.54" y="281.15" width="5.26" height="9.45" fill="#eaeaed"/>
<rect x="229.39" y="281.15" width="5.26" height="9.45" fill="#eaeaed"/>
<rect x="235.25" y="281.15" width="5.26" height="9.45" fill="#eaeaed"/>
<text x="170.50" y="278.10" font-size="7.0" fill="#1a1a1a" text-anchor="middle">D</text>
<text x="170.90" y="287.80" font-size="7.0" fill="#1a1a1a" text-anchor="middle">R</text>
<text x="243.70" y="283.20" font-size="8.3" fill="#1a1a1a" textLength="17.25" lengthAdjust="spacingAndGlyphs">IDH1</text>
<rect x="176.70" y="299.20" width="5.26" height="9.45" fill="#a50029"/>
<rect x="182.55" y="299.20" width="5.26" height="9.45" fill="#a50029"/>
<rect x="188.41" y="299.20" width="5.26" height="9.45" fill="#a50029"/>
<rect x="194.26" y="299.20" width="5.26" height="9.45" fill="#eaeaed"/>
<rect x="200.12" y="299.20" width="5.26" height="9.45" fill="#eaeaed"/>
<rect x="205.97" y="299.20" width="5.26" height="9.45" fill="#eaeaed"/>
<rect x="211.83" y="299.20" width="5.26" height="9.45" fill="#eaeaed"/>
<rect x="217.69" y="299.20" width="5.26" height="9.45" fill="#eaeaed"/>
<rect x="223.54" y="299.20" width="5.26" height="9.45" fill="#eaeaed"/>
<rect x="229.39" y="299.20" width="5.26" height="9.45" fill="#eaeaed"/>
<rect x="235.25" y="299.20" width="5.26" height="9.45" fill="#eaeaed"/>
<rect x="176.70" y="309.15" width="5.26" height="9.45" fill="#a50029"/>
<rect x="182.55" y="309.15" width="5.26" height="9.45" fill="#a50029"/>
<rect x="188.41" y="309.15" width="5.26" height="9.45" fill="#eaeaed"/>
<rect x="194.26" y="309.15" width="5.26" height="9.45" fill="#a50029"/>
<rect x="200.12" y="309.15" width="5.26" height="9.45" fill="#eaeaed"/>
<rect x="205.97" y="309.15" width="5.26" height="9.45" fill="#eaeaed"/>
<rect x="211.83" y="309.15" width="5.26" height="9.45" fill="#eaeaed"/>
<rect x="217.69" y="309.15" width="5.26" height="9.45" fill="#eaeaed"/>
<rect x="223.54" y="309.15" width="5.26" height="9.45" fill="#eaeaed"/>
<rect x="229.39" y="309.15" width="5.26" height="9.45" fill="#eaeaed"/>
<rect x="235.25" y="309.15" width="5.26" height="9.45" fill="#eaeaed"/>
<text x="170.50" y="306.10" font-size="7.0" fill="#1a1a1a" text-anchor="middle">D</text>
<text x="170.90" y="315.80" font-size="7.0" fill="#1a1a1a" text-anchor="middle">R</text>
<text x="243.70" y="311.20" font-size="8.3" fill="#1a1a1a" textLength="21.75" lengthAdjust="spacingAndGlyphs">SRSF2</text>
<rect x="324.4" y="212.3" width="1.5" height="91.8" fill="#111111"/>
<rect x="322.0" y="302.7" width="168.5" height="1.4" fill="#111111"/>
<rect x="322.0" y="302.70" width="2.6" height="1.2" fill="#111111"/>
<text x="318.40" y="305.50" font-size="7.6" fill="#1a1a1a" text-anchor="end" textLength="4.1" lengthAdjust="spacingAndGlyphs">0</text>
<rect x="322.0" y="285.10" width="2.6" height="1.2" fill="#111111"/>
<text x="318.40" y="287.90" font-size="7.6" fill="#1a1a1a" text-anchor="end" textLength="8.2" lengthAdjust="spacingAndGlyphs">20</text>
<rect x="322.0" y="267.50" width="2.6" height="1.2" fill="#111111"/>
<text x="318.40" y="270.30" font-size="7.6" fill="#1a1a1a" text-anchor="end" textLength="8.2" lengthAdjust="spacingAndGlyphs">40</text>
<rect x="322.0" y="249.90" width="2.6" height="1.2" fill="#111111"/>
<text x="318.40" y="252.70" font-size="7.6" fill="#1a1a1a" text-anchor="end" textLength="8.2" lengthAdjust="spacingAndGlyphs">60</text>
<rect x="322.0" y="232.30" width="2.6" height="1.2" fill="#111111"/>
<text x="318.40" y="235.10" font-size="7.6" fill="#1a1a1a" text-anchor="end" textLength="8.2" lengthAdjust="spacingAndGlyphs">80</text>
<rect x="322.0" y="214.70" width="2.6" height="1.2" fill="#111111"/>
<text x="318.40" y="217.50" font-size="7.6" fill="#1a1a1a" text-anchor="end" textLength="12.3" lengthAdjust="spacingAndGlyphs">100</text>
<text x="329.20" y="219.90" font-size="6.3" fill="#1a1a1a" textLength="25" lengthAdjust="spacingAndGlyphs">DNMT3A</text>
<text x="359.60" y="219.90" font-size="6.3" fill="#1a1a1a" textLength="12.5" lengthAdjust="spacingAndGlyphs">TET2</text>
<text x="378.80" y="219.90" font-size="6.3" fill="#1a1a1a" textLength="12.5" lengthAdjust="spacingAndGlyphs">IDH1</text>
<text x="399.20" y="219.90" font-size="6.3" fill="#1a1a1a" textLength="16" lengthAdjust="spacingAndGlyphs">SRSF2</text>
<text x="424.80" y="219.90" font-size="6.3" fill="#1a1a1a" textLength="17.3" lengthAdjust="spacingAndGlyphs">ASXL1</text>
<text x="448.80" y="219.90" font-size="6.3" fill="#1a1a1a" textLength="13.9" lengthAdjust="spacingAndGlyphs">IDH2</text>
<text x="471.50" y="219.90" font-size="6.3" fill="#1a1a1a" textLength="14.3" lengthAdjust="spacingAndGlyphs">KRAS</text>
<text x="332.45" y="312.60" font-size="7.6" fill="#1a1a1a" text-anchor="middle" textLength="5.21" lengthAdjust="spacingAndGlyphs">D</text>
<text x="344.05" y="312.60" font-size="7.6" fill="#1a1a1a" text-anchor="middle" textLength="5.21" lengthAdjust="spacingAndGlyphs">R</text>
<text x="355.40" y="312.60" font-size="7.6" fill="#1a1a1a" text-anchor="middle" textLength="5.21" lengthAdjust="spacingAndGlyphs">D</text>
<text x="367.00" y="312.60" font-size="7.6" fill="#1a1a1a" text-anchor="middle" textLength="5.21" lengthAdjust="spacingAndGlyphs">R</text>
<text x="378.35" y="312.60" font-size="7.6" fill="#1a1a1a" text-anchor="middle" textLength="5.21" lengthAdjust="spacingAndGlyphs">D</text>
<text x="389.95" y="312.60" font-size="7.6" fill="#1a1a1a" text-anchor="middle" textLength="5.21" lengthAdjust="spacingAndGlyphs">R</text>
<text x="401.30" y="312.60" font-size="7.6" fill="#1a1a1a" text-anchor="middle" textLength="5.21" lengthAdjust="spacingAndGlyphs">D</text>
<text x="412.90" y="312.60" font-size="7.6" fill="#1a1a1a" text-anchor="middle" textLength="5.21" lengthAdjust="spacingAndGlyphs">R</text>
<text x="424.25" y="312.60" font-size="7.6" fill="#1a1a1a" text-anchor="middle" textLength="5.21" lengthAdjust="spacingAndGlyphs">D</text>
<text x="435.85" y="312.60" font-size="7.6" fill="#1a1a1a" text-anchor="middle" textLength="5.21" lengthAdjust="spacingAndGlyphs">R</text>
<text x="447.20" y="312.60" font-size="7.6" fill="#1a1a1a" text-anchor="middle" textLength="5.21" lengthAdjust="spacingAndGlyphs">D</text>
<text x="458.80" y="312.60" font-size="7.6" fill="#1a1a1a" text-anchor="middle" textLength="5.21" lengthAdjust="spacingAndGlyphs">R</text>
<text x="470.15" y="312.60" font-size="7.6" fill="#1a1a1a" text-anchor="middle" textLength="5.21" lengthAdjust="spacingAndGlyphs">D</text>
<text x="481.75" y="312.60" font-size="7.6" fill="#1a1a1a" text-anchor="middle" textLength="5.21" lengthAdjust="spacingAndGlyphs">R</text>
<text x="301.90" y="284.50" font-size="7.6" fill="#1a1a1a" textLength="49.5" lengthAdjust="spacingAndGlyphs" transform="rotate(-90 301.90 284.50)">VAF in percent</text>
<rect x="332.05" y="263.60" width="1.1" height="17.40" fill="#2a2a2a"/>
<rect x="330.80" y="263.00" width="3.6" height="1.2" fill="#111"/>
<rect x="330.80" y="280.40" width="3.6" height="1.2" fill="#111"/>
<rect x="329.10" y="265.20" width="6.90" height="14.40" fill="#a50029"/>
<rect x="329.10" y="266.85" width="6.90" height="1.3" fill="#111"/>
<rect x="343.45" y="259.30" width="1.1" height="12.60" fill="#2a2a2a"/>
<rect x="342.20" y="258.70" width="3.6" height="1.2" fill="#111"/>
<rect x="342.20" y="271.30" width="3.6" height="1.2" fill="#111"/>
<rect x="340.80" y="264.00" width="6.40" height="2.90" fill="#a50029"/>
<rect x="340.80" y="265.15" width="6.40" height="1.3" fill="#111"/>
<rect x="354.95" y="267.50" width="1.1" height="30.90" fill="#2a2a2a"/>
<rect x="353.50" y="266.90" width="4.0" height="1.2" fill="#111"/>
<rect x="353.50" y="297.80" width="4.0" height="1.2" fill="#111"/>
<rect x="352.30" y="297.00" width="6.60" height="0.9" fill="#a50029"/>
<rect x="352.30" y="297.60" width="6.60" height="1.7" fill="#111"/>
<rect x="353.50" y="299.20" width="4.20" height="0.8" fill="#111"/>
<rect x="366.45" y="230.40" width="1.1" height="36.20" fill="#2a2a2a"/>
<rect x="365.00" y="229.80" width="4.0" height="1.2" fill="#111"/>
<rect x="365.00" y="266.00" width="4.0" height="1.2" fill="#111"/>
<rect x="363.50" y="265.20" width="7.00" height="0.9" fill="#a50029"/>
<rect x="363.50" y="265.80" width="7.00" height="1.7" fill="#111"/>
<rect x="364.70" y="267.40" width="4.60" height="0.8" fill="#111"/>
<rect x="377.85" y="264.80" width="1.1" height="36.20" fill="#2a2a2a"/>
<rect x="376.60" y="264.20" width="3.6" height="1.2" fill="#111"/>
<rect x="376.60" y="300.40" width="3.6" height="1.2" fill="#111"/>
<rect x="375.10" y="282.05" width="6.80" height="2.1" fill="#a50029"/>
<rect x="375.10" y="282.40" width="6.80" height="1.4" fill="#1a0508"/>
<rect x="386.80" y="265.40" width="6.40" height="0.9" fill="#a50029"/>
<rect x="386.80" y="266.00" width="6.40" height="1.7" fill="#111"/>
<rect x="388.00" y="267.60" width="4.00" height="0.8" fill="#111"/>
<rect x="388.00" y="265.00" width="4.00" height="0.8" fill="#111"/>
<rect x="401.15" y="277.20" width="1.1" height="8.80" fill="#2a2a2a"/>
<rect x="399.90" y="276.60" width="3.6" height="1.2" fill="#111"/>
<rect x="399.90" y="285.40" width="3.6" height="1.2" fill="#111"/>
<rect x="398.60" y="280.65" width="6.00" height="2.1" fill="#a50029"/>
<rect x="398.60" y="281.00" width="6.00" height="1.4" fill="#1a0508"/>
<rect x="409.70" y="265.85" width="6.30" height="2.1" fill="#a50029"/>
<rect x="409.70" y="266.20" width="6.30" height="1.4" fill="#1a0508"/>
<rect x="421.20" y="300.55" width="6.50" height="2.1" fill="#a50029"/>
<rect x="421.20" y="300.90" width="6.50" height="1.4" fill="#1a0508"/>
<rect x="432.40" y="258.35" width="6.60" height="2.1" fill="#a50029"/>
<rect x="432.40" y="258.70" width="6.60" height="1.4" fill="#1a0508"/>
<rect x="444.00" y="293.55" width="6.60" height="2.1" fill="#a50029"/>
<rect x="444.00" y="293.90" width="6.60" height="1.4" fill="#1a0508"/>
<rect x="455.30" y="277.85" width="6.50" height="2.1" fill="#a50029"/>
<rect x="455.30" y="278.20" width="6.50" height="1.4" fill="#1a0508"/>
<rect x="466.90" y="296.15" width="6.50" height="2.1" fill="#a50029"/>
<rect x="466.90" y="296.50" width="6.50" height="1.4" fill="#1a0508"/>
<rect x="478.10" y="258.35" width="6.60" height="2.1" fill="#a50029"/>
<rect x="478.10" y="258.70" width="6.60" height="1.4" fill="#1a0508"/>
<rect x="0" y="0" width="520" height="1" fill="#000"/>
<rect x="0" y="0" width="1" height="347" fill="#000"/>
<rect x="518.6" y="0" width="1.4" height="347" fill="#000"/>
<rect x="0" y="345.6" width="520" height="1.4" fill="#000"/>
</svg>
</body></html>
